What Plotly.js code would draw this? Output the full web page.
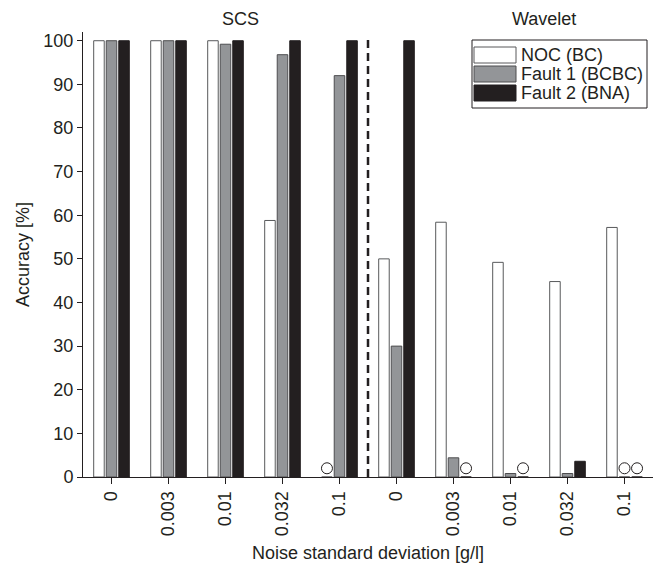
<!DOCTYPE html>
<html>
<head>
<meta charset="utf-8">
<script src="https://cdn.plot.ly/plotly-3.0.1.min.js"></script>
<style>html,body{margin:0;padding:0;background:#fff;}#chart{width:659px;height:571px;}</style>
</head>
<body>
<div id="chart"></div>
<script>
// Categories (noise standard deviation), SCS group then Wavelet group
var tickLabels = ["0", "0.003", "0.01", "0.032", "0.1", "0", "0.003", "0.01", "0.032", "0.1"];
var groupNames = ["SCS", "Wavelet"];
var seriesNames = ["NOC (BC)", "Fault 1 (BCBC)", "Fault 2 (BNA)"];
var nocBC     = [100, 100, 100,  58.8, 0,   50,   58.4, 49.2, 44.8, 57.2];
var fault1    = [100, 100, 99.2, 96.8, 92,  30,   4.4,  0.8,  0.8,  0];
var fault2    = [100, 100, 100,  100,  100, 100,  0,    0,    3.6,  0];

var fills = ["#ffffff", "#939598", "#231f20"];
var edges = ["#58595b", "#4d4d4f", "#231f20"];
var textColor = "#231f20";
var FONT = "Liberation Sans, Arial, Helvetica, sans-serif";
var FS = 18;

var W = 659, H = 571, mL = 83, mR = 6, mT = 32, mB = 94;
var bargap = 0.34, bargroupgap = 0.16;
var slot = (1 - bargap) / 3;

var idx = tickLabels.map(function (_, i) { return i; });
var allSeries = [nocBC, fault1, fault2];

var traces = allSeries.map(function (vals, s) {
  return {
    type: "bar", x: idx, y: vals, name: seriesNames[s], showlegend: false,
    marker: { color: fills[s], line: { color: edges[s], width: 1 } },
    hoverinfo: "y"
  };
});

// open circles marking zero-valued results
var cx = [], cy = [];
allSeries.forEach(function (vals, s) {
  vals.forEach(function (v, i) {
    if (v === 0) { cx.push(i + (s - 1) * slot); cy.push(2); }
  });
});
traces.push({
  type: "scatter", mode: "markers", x: cx, y: cy, showlegend: false, hoverinfo: "skip",
  marker: { symbol: "circle", size: 11, color: "#ffffff", line: { color: textColor, width: 1 } }
});

function px2x(p) { return (p - mL) / (W - mL - mR); }
function py2y(p) { return 1 - (p - mT) / (H - mT - mB); }

var shapes = [
  { type: "line", xref: "x", yref: "y", x0: 4.5, x1: 4.5, y0: 0, y1: 101,
    line: { color: textColor, width: 2.5, dash: "8px,5px" } },
  { type: "rect", xref: "paper", yref: "paper", x0: px2x(472), x1: px2x(647), y0: py2y(108), y1: py2y(40),
    line: { color: textColor, width: 1 }, fillcolor: "#ffffff", layer: "above" }
];
var annotations = [
  { text: groupNames[0], xref: "paper", yref: "paper", x: px2x(241), y: py2y(19), showarrow: false,
    xanchor: "center", yanchor: "middle", font: { size: FS, color: textColor, family: FONT } },
  { text: groupNames[1], xref: "paper", yref: "paper", x: px2x(544), y: py2y(19), showarrow: false,
    xanchor: "center", yanchor: "middle", font: { size: FS, color: textColor, family: FONT } }
];
var rowY = [55, 74, 93];
seriesNames.forEach(function (nm, s) {
  shapes.push({ type: "rect", xref: "paper", yref: "paper", x0: px2x(474), x1: px2x(516),
    y0: py2y(rowY[s] + 8), y1: py2y(rowY[s] - 8), fillcolor: fills[s],
    line: { color: edges[s], width: 1 }, layer: "above" });
  annotations.push({ text: nm, xref: "paper", yref: "paper", x: px2x(519), y: py2y(rowY[s]),
    showarrow: false, xanchor: "left", yanchor: "middle",
    font: { size: FS, color: textColor, family: FONT } });
});

var layout = {
  width: W, height: H,
  margin: { l: mL, r: mR, t: mT, b: mB, pad: 0 },
  paper_bgcolor: "#ffffff", plot_bgcolor: "#ffffff",
  font: { family: FONT, size: FS, color: textColor },
  barmode: "group", bargap: bargap, bargroupgap: bargroupgap,
  showlegend: false,
  xaxis: {
    range: [-0.5, 9.5], tickmode: "array", tickvals: idx, ticktext: tickLabels,
    tickangle: -90, ticks: "outside", ticklen: 6, tickcolor: textColor, tickwidth: 1,
    showline: true, linecolor: textColor, linewidth: 1, showgrid: false, zeroline: false,
    tickfont: { size: FS, family: FONT, color: textColor },
    title: { text: "Noise standard deviation [g/l]", standoff: 11, font: { size: FS, family: FONT, color: textColor } },
    automargin: false
  },
  yaxis: {
    range: [0, 102], tickmode: "array", tickvals: [0,10,20,30,40,50,60,70,80,90,100],
    ticks: "outside", ticklen: 5, tickcolor: textColor, tickwidth: 1,
    showline: true, linecolor: textColor, linewidth: 1, showgrid: false, zeroline: false,
    tickfont: { size: FS, family: FONT, color: textColor },
    title: { text: "Accuracy [%]", standoff: 9, font: { size: FS, family: FONT, color: textColor } },
    automargin: false
  },
  shapes: shapes,
  annotations: annotations
};

Plotly.newPlot("chart", traces, layout, { displayModeBar: false, staticPlot: true });
</script>
</body>
</html>
